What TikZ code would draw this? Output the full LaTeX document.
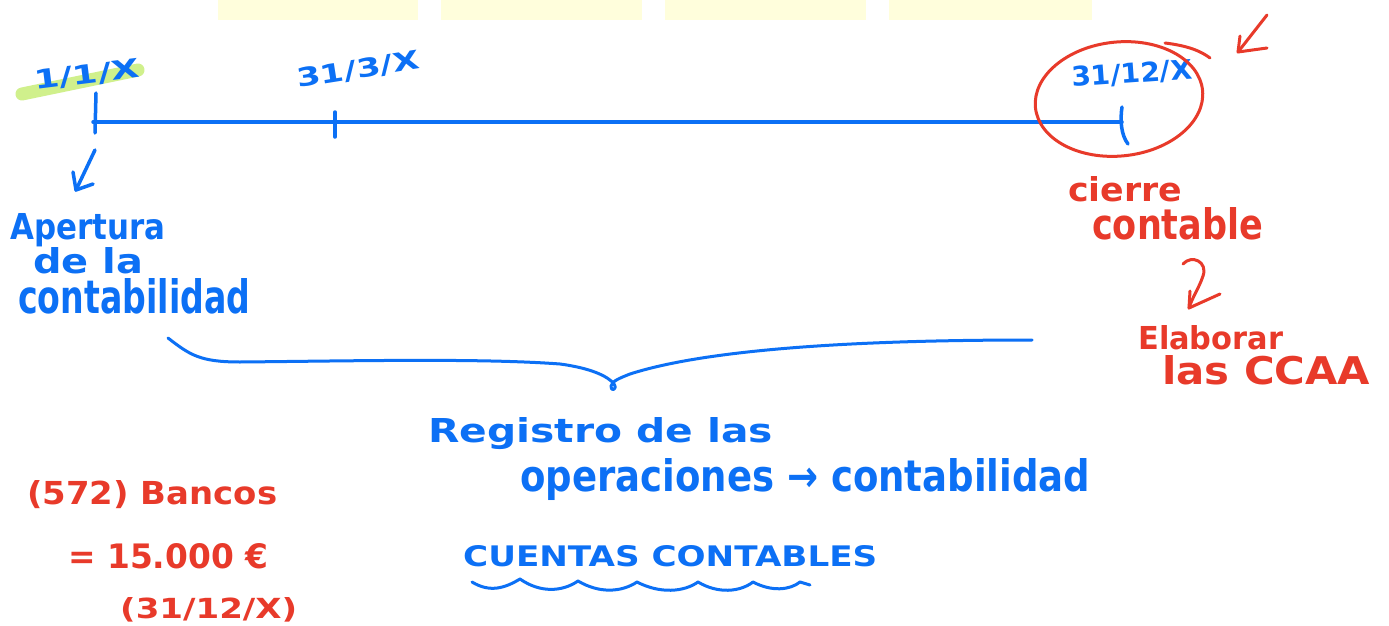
\documentclass[tikz,border=0pt]{standalone}
\usepackage{fontspec}
\setmainfont{DejaVu Sans}
\usepackage{graphicx}
\definecolor{hwblue}{RGB}{12,112,245}
\definecolor{hwred}{RGB}{232,58,42}
\definecolor{hwgreen}{RGB}{208,240,140}
\definecolor{hwyellow}{RGB}{255,254,220}
\newcommand{\hw}[3]{\resizebox{#1pt}{#2pt}{\bfseries #3}}
\tikzset{
  bl/.style={draw=hwblue, line width=3.5pt, line cap=round, line join=round},
  rd/.style={draw=hwred, line width=3pt, line cap=round, line join=round},
  btxt/.style={text=hwblue, inner sep=0pt, anchor=base west},
  rtxt/.style={text=hwred, inner sep=0pt, anchor=base west},
  ybox/.style={fill=hwyellow, draw=none},
}
\begin{document}
\begin{tikzpicture}[x=1pt,y=-1pt]
\useasboundingbox (0,0) rectangle (1389,626);
\fill[white] (0,0) rectangle (1389,626);
% yellow boxes at top
\fill[ybox] (218,0) rectangle (418,20);
\fill[ybox] (441,0) rectangle (642,20);
\fill[ybox] (665,0) rectangle (866,20);
\fill[ybox] (889,0) rectangle (1092,20);
% green highlight
\coordinate (g0) at (22,94);
\coordinate (g1) at (138,70);
\draw[draw=hwgreen, line width=13pt, line cap=round] (g0) -- (g1);
% timeline
\coordinate (t0) at (93,122);
\coordinate (t1) at (1122,122);
\draw[bl] (t0) -- (t1);
\coordinate (k0a) at (96,93);
\coordinate (k0b) at (95,133);
\draw[bl] (k0a) -- (k0b);
\coordinate (k1a) at (335,112);
\coordinate (k1b) at (335,137);
\draw[bl] (k1a) -- (k1b);
\coordinate (k2a) at (1122,107);
\coordinate (k2b) at (1128,144);
\draw[bl] (k2a) .. controls (1120,120) and (1121,135) .. (k2b);
% dates
\node[btxt, rotate=7] (d1) at (35,90) {\hw{106}{19}{1/1/X}};
\node[btxt, rotate=9] (d2) at (298,88) {\hw{124}{19}{31/3/X}};
\node[btxt, rotate=4] (d3) at (1072,87) {\hw{121}{20}{31/12/X}};
% blue arrow to Apertura
\coordinate (ba0) at (95,150);
\coordinate (ba1) at (76,190);
\draw[bl] (ba0) -- (ba1);
\draw[bl] (73,172) -- (ba1) -- (93,184);
% Apertura
\node[btxt] (ap1) at (10,239) {\hw{155}{26}{Apertura}};
\node[btxt] (ap2) at (33,273) {\hw{110}{26}{de la}};
\node[btxt] (ap3) at (18,313) {\hw{232}{35}{contabilidad}};
% red ellipse and overshoot
\draw[rd, rotate around={6:(1119,99)}] (1119,99) ellipse [x radius=84pt, y radius=57pt];
\coordinate (o0) at (1165,43);
\coordinate (o1) at (1210,58);
\draw[rd] (o0) .. controls (1190,46) and (1202,52) .. (o1);
% red arrow top right
\coordinate (ra0) at (1267,15);
\coordinate (ra1) at (1238,52);
\draw[rd] (ra0) -- (ra1);
\draw[rd] (1240,36) -- (ra1) -- (1267,48);
% cierre contable
\node[rtxt] (ci1) at (1068,201) {\hw{114}{25}{cierre}};
\node[rtxt] (ci2) at (1092,239) {\hw{171}{32}{contable}};
% curved red arrow
\coordinate (ca0) at (1183,264);
\coordinate (ca1) at (1189,308);
\draw[rd] (ca0) .. controls (1192,254) and (1208,262) .. (1203,276) .. controls (1199,288) and (1192,298) .. (ca1);
\draw[rd] (1190,291) -- (ca1) -- (1220,294);
% Elaborar las CCAA
\node[rtxt] (el1) at (1138,349) {\hw{145}{24}{Elaborar}};
\node[rtxt] (el2) at (1162,384) {\hw{208}{29}{las CCAA}};
% brace
\coordinate (br0) at (168,338);
\coordinate (br1) at (1032,340);
\draw[bl, line width=3pt] (br0) .. controls (190,355) and (200,362) .. (240,362)
  .. controls (350,361) and (480,358) .. (560,364)
  .. controls (590,368) and (608,376) .. (614,384)
  .. controls (618,390) and (610,392) .. (611,386)
  .. controls (612,381) and (620,378) .. (630,374)
  .. controls (720,345) and (900,340) .. (br1);
% Registro text
\node[btxt] (re1) at (428,442) {\hw{345}{25}{Registro de las}};
\node[btxt] (re2) at (520,491) {\hw{570}{33}{operaciones → contabilidad}};
\node[btxt] (cu) at (463,566) {\hw{414}{21}{CUENTAS CONTABLES}};
% wavy underline
\coordinate (w0) at (472,582);
\coordinate (w1) at (810,585);
\draw[bl, line width=3pt] (w0) .. controls (490,593) and (505,588) .. (520,579)
  .. controls (540,593) and (562,592) .. (578,581)
  .. controls (600,594) and (622,592) .. (637,582)
  .. controls (660,594) and (684,592) .. (698,582)
  .. controls (718,594) and (740,592) .. (753,582)
  .. controls (772,592) and (790,590) .. (800,582) -- (w1);
% Bancos
\node[rtxt] (bn1) at (27,504) {\hw{250}{24}{(572) Bancos}};
\node[rtxt] (bn2) at (68,568) {\hw{200}{25}{= 15.000 €}};
\node[rtxt] (bn3) at (120,618) {\hw{177}{21}{(31/12/X)}};
\end{tikzpicture}
\end{document}
